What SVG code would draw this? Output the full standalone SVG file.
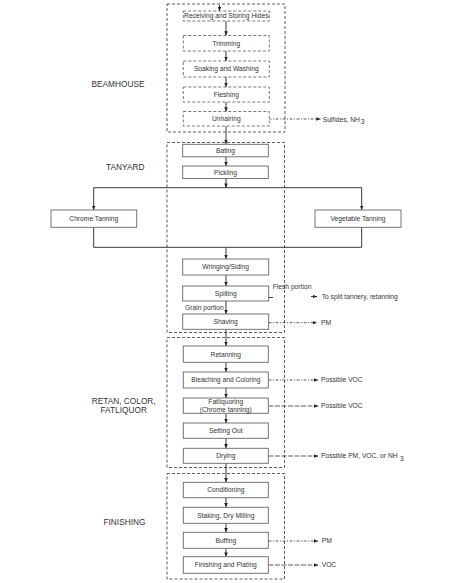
<svg xmlns="http://www.w3.org/2000/svg" width="457" height="583" viewBox="0 0 457 583">
<defs>
<marker id="ah" viewBox="0 0 6 5" refX="6" refY="2.5" markerWidth="4.5" markerHeight="3.6" markerUnits="userSpaceOnUse" orient="auto">
<path d="M0,0 L6,2.5 L0,5 z" fill="#222"/>
</marker>
<style>
.area{fill:none;stroke:#333;stroke-width:0.8;stroke-dasharray:3 2}
.nd{fill:#fff;stroke:#666;stroke-width:0.9}
.ndd{fill:#fff;stroke:#555;stroke-width:0.8;stroke-dasharray:3 2}
.t{font-family:"Liberation Sans",Arial,sans-serif;font-size:6.7px;fill:#333;text-anchor:middle}
.o{font-family:"Liberation Sans",Arial,sans-serif;font-size:6.7px;fill:#333}
.lb{font-family:"Liberation Sans",Arial,sans-serif;font-size:8.3px;fill:#333}
.c{fill:none;stroke:#222;stroke-width:0.9}
.ca{fill:none;stroke:#222;stroke-width:0.9;marker-end:url(#ah)}
.ce{fill:none;stroke:#333;stroke-width:0.8;stroke-dasharray:3 1.5 1 1.5;marker-end:url(#ah)}
.cl{fill:none;stroke:#333;stroke-width:0.8;stroke-dasharray:5 1.5;marker-end:url(#ah)}
</style>
</defs>
<rect width="457" height="583" fill="#fff"/>

<g id="areas">
<rect class="area" x="167" y="4" width="118" height="128"/>
<rect class="area" x="167" y="142.5" width="117.5" height="190"/>
<rect class="area" x="167" y="337.5" width="117.5" height="130"/>
<rect class="area" x="167" y="473.5" width="117.5" height="105.5"/>
</g>

<g id="labels">
<text class="lb" x="91.5" y="87.3">BEAMHOUSE</text>
<text class="lb" x="106" y="170.3">TANYARD</text>
<text class="lb" x="123.7" y="404" text-anchor="middle">RETAN, COLOR,</text>
<text class="lb" x="123.7" y="413.3" text-anchor="middle">FATLIQUOR</text>
<text class="lb" x="103.5" y="524.7">FINISHING</text>
</g>

<g id="connectors">
<line class="ca" x1="219.5" y1="5" x2="219.5" y2="11"/>
<line class="ca" x1="226" y1="21" x2="226" y2="35.5"/>
<line class="ca" x1="226" y1="51" x2="226" y2="61"/>
<line class="ca" x1="226" y1="77" x2="226" y2="87"/>
<line class="ca" x1="226" y1="102" x2="226" y2="111.5"/>
<line class="ca" x1="226" y1="126" x2="226" y2="144"/>
<line class="ca" x1="226" y1="157" x2="226" y2="166"/>
<line class="ca" x1="226" y1="178.5" x2="226" y2="187.7"/>
<line class="c" x1="93.7" y1="187.7" x2="361.7" y2="187.7"/>
<line class="ca" x1="93.7" y1="187.7" x2="93.7" y2="210"/>
<line class="ca" x1="361.7" y1="187.7" x2="361.7" y2="210"/>
<polyline class="c" points="93.7,227.3 93.7,247.3 361.7,247.3 361.7,227.3"/>
<line class="ca" x1="226" y1="247.3" x2="226" y2="259"/>
<line class="ca" x1="226" y1="275" x2="226" y2="286"/>
<line class="ca" x1="226" y1="301" x2="226" y2="314"/>
<line class="ca" x1="226" y1="329.5" x2="226" y2="346"/>
<line class="ca" x1="226" y1="362.3" x2="226" y2="372"/>
<line class="ca" x1="226" y1="388" x2="226" y2="398"/>
<line class="ca" x1="226" y1="413.5" x2="226" y2="423"/>
<line class="ca" x1="226" y1="438.5" x2="226" y2="448.3"/>
<line class="ca" x1="226" y1="463.5" x2="226" y2="482.3"/>
<line class="ca" x1="226" y1="498" x2="226" y2="507.3"/>
<line class="ca" x1="226" y1="523.3" x2="226" y2="532.3"/>
<line class="ca" x1="226" y1="548.3" x2="226" y2="556.7"/>
<line class="ce" x1="268.5" y1="119" x2="320.5" y2="119"/>
<line class="c" x1="268.5" y1="297.5" x2="273" y2="297.5"/>
<line class="ca" x1="311" y1="296.5" x2="317" y2="296.5"/>
<line class="ce" x1="268.5" y1="322.7" x2="317" y2="322.7"/>
<line class="ce" x1="268.5" y1="380" x2="318.3" y2="380"/>
<line class="cl" x1="268.5" y1="406" x2="318.3" y2="406"/>
<line class="cl" x1="268.5" y1="456" x2="318.3" y2="456"/>
<line class="ce" x1="268.5" y1="541" x2="318.3" y2="541"/>
<line class="cl" x1="268.5" y1="565" x2="318.3" y2="565"/>
</g>

<g id="n-receiving"><rect class="ndd" x="183.3" y="11" width="86" height="10"/><text class="t" x="226.3" y="18.4">Receiving and Storing Hides</text></g>
<g id="n-trimming"><rect class="ndd" x="183.3" y="35.5" width="86" height="15.5"/><text class="t" x="226.3" y="45.6">Trimming</text></g>
<g id="n-soaking"><rect class="ndd" x="183.3" y="61" width="86" height="16"/><text class="t" x="226.3" y="71.4">Soaking and Washing</text></g>
<g id="n-fleshing"><rect class="ndd" x="183.3" y="87" width="86" height="15"/><text class="t" x="226.3" y="96.9">Fleshing</text></g>
<g id="n-unhairing"><rect class="ndd" x="183.3" y="111.5" width="86" height="14.5"/><text class="t" x="226.3" y="121.2">Unhairing</text></g>

<g id="n-bating"><rect class="nd" x="182.7" y="144.3" width="85.6" height="12.5"/><text class="t" x="225.5" y="152.8">Bating</text></g>
<g id="n-pickling"><rect class="nd" x="182.7" y="166" width="85.6" height="12.5"/><text class="t" x="225.5" y="174.5">Pickling</text></g>
<g id="n-chrome"><rect class="nd" x="51" y="210" width="85.7" height="17.3"/><text class="t" x="93.8" y="221">Chrome Tanning</text></g>
<g id="n-vegetable"><rect class="nd" x="315" y="210" width="86" height="17.3"/><text class="t" x="358" y="221">Vegetable Tanning</text></g>
<g id="n-wringing"><rect class="nd" x="182.7" y="259" width="86" height="16"/><text class="t" x="225.7" y="269.4">Wringing/Siding</text></g>
<g id="n-spliting"><rect class="nd" x="182.7" y="286" width="86" height="15"/><text class="t" x="225.7" y="295.9">Spliting</text></g>
<g id="n-shaving"><rect class="nd" x="182.7" y="314" width="86" height="15.3"/><text class="t" x="225.7" y="324">Shaving</text></g>

<g id="n-retanning"><rect class="nd" x="183.3" y="346" width="85" height="16.3"/><text class="t" x="225.8" y="356.5">Retanning</text></g>
<g id="n-bleaching"><rect class="nd" x="183.3" y="372" width="85" height="16"/><text class="t" x="225.8" y="382.4">Bleaching and Coloring</text></g>
<g id="n-fatliquoring"><rect class="nd" x="183.3" y="398" width="85" height="15.3"/><text class="t" x="225.8" y="404">Fatliquoring</text><text class="t" x="225.8" y="412.2">(Chrome tanning)</text></g>
<g id="n-setting"><rect class="nd" x="183.3" y="423" width="85" height="15.3"/><text class="t" x="225.8" y="433">Setting Out</text></g>
<g id="n-drying"><rect class="nd" x="183.3" y="448.3" width="85" height="15"/><text class="t" x="225.8" y="458">Drying</text></g>

<g id="n-conditioning"><rect class="nd" x="183.3" y="482.3" width="85" height="15.4"/><text class="t" x="225.8" y="492.4">Conditioning</text></g>
<g id="n-staking"><rect class="nd" x="183.3" y="507.3" width="85" height="16"/><text class="t" x="225.8" y="517.6">Staking, Dry Milling</text></g>
<g id="n-buffing"><rect class="nd" x="183.3" y="532.3" width="85" height="16"/><text class="t" x="225.8" y="542.6">Buffing</text></g>
<g id="n-finishing"><rect class="nd" x="183.3" y="556.7" width="85" height="16.6"/><text class="t" x="225.8" y="567.4">Finishing and Plating</text></g>

<g id="outputs">
<text class="o" x="322.7" y="121.6">Sulfides, NH<tspan dx="1" dy="2.5">3</tspan></text>
<text class="o" x="272.7" y="289.3">Flesh portion</text>
<text class="o" x="185" y="309.8">Grain portion</text>
<text class="o" x="321.7" y="299">To split tannery, retanning</text>
<text class="o" x="321" y="325.2">PM</text>
<text class="o" x="321" y="382.4">Possible VOC</text>
<text class="o" x="321" y="408.4">Possible VOC</text>
<text class="o" x="321" y="458.4">Possible PM, VOC, or NH<tspan dx="2.5" dy="2.5">3</tspan></text>
<text class="o" x="321.7" y="543.4">PM</text>
<text class="o" x="321.7" y="567.4">VOC</text>
</g>
</svg>
